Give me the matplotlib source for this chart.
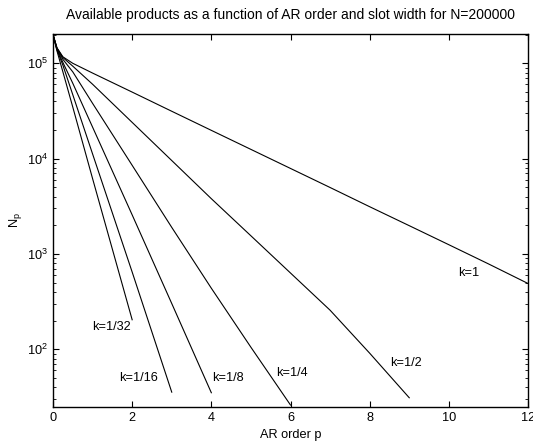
import math
import matplotlib
matplotlib.use("Agg")
import matplotlib.pyplot as plt
from matplotlib.ticker import LogLocator, FixedLocator, NullFormatter, FuncFormatter

plt.rcParams['font.family'] = ['Liberation Sans', 'DejaVu Sans']
plt.rcParams['mathtext.fontset'] = 'custom'
plt.rcParams['mathtext.rm'] = 'Liberation Sans'
plt.rcParams['mathtext.it'] = 'Liberation Sans'

# ---- data ----
p_k1 = [0, 0.1, 0.25, 0.5, 1, 2, 3, 4, 5, 6, 7, 8, 9, 10, 11, 12]
n_k1 = [200000, 145000, 117000, 100000, 79000, 49900, 31400, 19800, 12500,
        7890, 4980, 3130, 1980, 1250, 787, 490]

p_k2 = [0, 0.1, 0.25, 0.5, 1, 2, 3, 4, 5, 6, 7, 8, 9]
n_k2 = [200000, 145000, 115000, 93300, 60300, 24000, 9550, 3800, 1550,
        631, 257, 91, 31]

p_k4 = [0, 0.1, 0.25, 0.5, 1, 2, 3, 4, 5, 6]
n_k4 = [200000, 143000, 110000, 81300, 38000, 8510, 1900, 437, 105, 26]

p_k8 = [0, 0.1, 0.25, 0.5, 1, 2, 3, 4]
n_k8 = [200000, 141000, 102000, 61700, 21400, 2570, 302, 35]

p_k16 = [0, 0.1, 0.25, 0.5, 1, 2, 3]
n_k16 = [200000, 138000, 95500, 46800, 11200, 646, 35.5]

p_k32 = [0, 0.1, 0.25, 0.5, 1, 2]
n_k32 = [200000, 135000, 81300, 34700, 6170, 204]

labels = ["k=1", "k=1/2", "k=1/4", "k=1/8", "k=1/16", "k=1/32"]
label_x = [10.23, 8.51, 5.63, 4.01, 1.67, 0.98]
label_y = [630, 71, 56.8, 49.5, 49.5, 170]

x_ticks = [0, 2, 4, 6, 8, 10, 12]
title = "Available products as a function of AR order and slot width for N=200000"

# ---- plot ----
fig = plt.figure(figsize=(5.33, 4.44), dpi=100)
ax = fig.add_axes([53/533, 1-407/444, (528-53)/533, (407-34)/444])

series = [(p_k1, n_k1), (p_k2, n_k2), (p_k4, n_k4), (p_k8, n_k8),
          (p_k16, n_k16), (p_k32, n_k32)]
for px, ny in series:
    ax.plot(px, ny, color='black', linewidth=0.8)

for lab, lx, ly in zip(labels, label_x, label_y):
    ax.text(lx, ly, lab, fontsize=9.2, ha='left', va='center')

ax.set_yscale('log')
ax.set_xlim(0, 12)
ax.set_ylim(24.8, 2.03e5)
ax.xaxis.set_major_locator(FixedLocator(x_ticks))
ax.yaxis.set_major_locator(LogLocator(base=10, numticks=10))
ax.yaxis.set_minor_locator(LogLocator(base=10, subs=range(2, 10), numticks=20))
ax.yaxis.set_minor_formatter(NullFormatter())
ax.yaxis.set_major_formatter(FuncFormatter(
    lambda v, pos: r'$\mathregular{10^{%d}}$' % round(math.log10(v))))

ax.tick_params(which='both', direction='in', top=True, right=True, labelsize=9.2)
ax.tick_params(which='major', length=4, width=0.8)
ax.tick_params(which='minor', length=2.5, width=0.6)
for s in ax.spines.values():
    s.set_linewidth(1.0)

ax.set_title(title, fontsize=10, pad=11)
ax.set_xlabel("AR order p", fontsize=9.2, labelpad=4)
ax.set_ylabel(r"N$_\mathregular{p}$", fontsize=9.2, labelpad=2)

fig.savefig("out.png", dpi=100)
